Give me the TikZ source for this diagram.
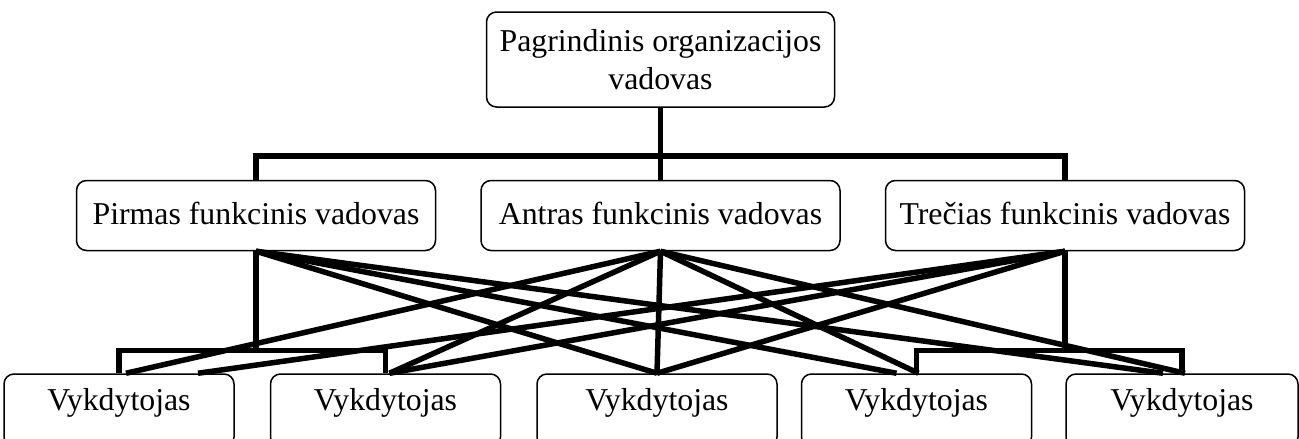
\documentclass[tikz,border=0pt]{standalone}
\usepackage{fontspec}
\setmainfont{Liberation Serif}
\usetikzlibrary{positioning}

\begin{document}
\begin{tikzpicture}
            [%%%%%%%%%%%%%%%%%%%%%%%%%%%%%%%%%%%%%%%%%%%%%%%%%%%%%%%%%%
                x=1pt,y=1pt,node distance=44pt,
                box/.style={draw,line width=1.5pt,rounded corners=10pt,
                            inner sep=0pt,font=\fontsize{31.8}{38}\selectfont},
                head/.style={box,align=center,minimum width=348pt,minimum height=95pt},
                chief/.style={box,minimum width=359pt,text height=44pt,text depth=26pt},
                worker/.style={box,minimum width=230pt,text height=36pt,text depth=37pt},
                link/.style={line width=5.5pt}
            ]%%%%%%%%%%%%%%%%%%%%%%%%%%%%%%%%%%%%%%%%%%%%%%%%%%%%%%%%%%
            \clip (0,0) rectangle (1299,-439);
            \node[head] (top) at (660.5,-59.5) {Pagrindinis organizacijos\\vadovas};
            \node[chief] (f2) [below=72pt of top] {Antras funkcinis vadovas};
            \node[chief] (f1) [left=of f2] {Pirmas funkcinis vadovas};
            \node[chief] (f3) [right=of f2] {Trečias funkcinis vadovas};

            \node[worker,minimum width=240pt] (v3) [below=122pt of f2, xshift=-3.5pt] {Vykdytojas};
            \node[worker] (v2) [left=35pt of v3] {Vykdytojas};
            \node[worker] (v1) [left=35pt of v2] {Vykdytojas};
            \node[worker] (v4) [right=23pt of v3] {Vykdytojas};
            \node[worker,minimum width=232pt] (v5) [right=33pt of v4] {Vykdytojas};

            % virsus
            \draw[link] (top.south) -- (f2.north);
            \draw[link] (f1.north) -- ++(0,24pt) -| (f3.north);
            % pirmas
            \draw[link] (f1.south) -- ++(0,-99pt) coordinate (j1);
            \draw[link] (v1.north) |- (j1) -| (v2.north);
            \draw[link] (f1.south) -- (v3.north);
            \draw[link] (f1.south) -- ([xshift=-20pt]v4.north);
            \draw[link] (f1.south) -- ([xshift=-19pt]v5.north);
            % antras
            \draw[link] (f2.south) -- (v3.north);
            \draw[link] (f2.south) -- ([xshift=7pt]v1.north);
            \draw[link] (f2.south) -- ([xshift=4pt]v2.north);
            \draw[link] (f2.south) -- ([xshift=2pt]v4.north);
            \draw[link] (f2.south) -- ([xshift=3pt]v5.north);
            % trecias
            \draw[link] (f3.south) -- ++(0,-99pt) coordinate (j3);
            \draw[link] (v4.north) |- (j3) -| (v5.north);
            \draw[link] (f3.south) -- ([xshift=79pt]v1.north);
            \draw[link] (f3.south) -- ([xshift=4pt]v2.north);
            \draw[link] (f3.south) -- (v3.north);
        \end{tikzpicture}
\end{document}
